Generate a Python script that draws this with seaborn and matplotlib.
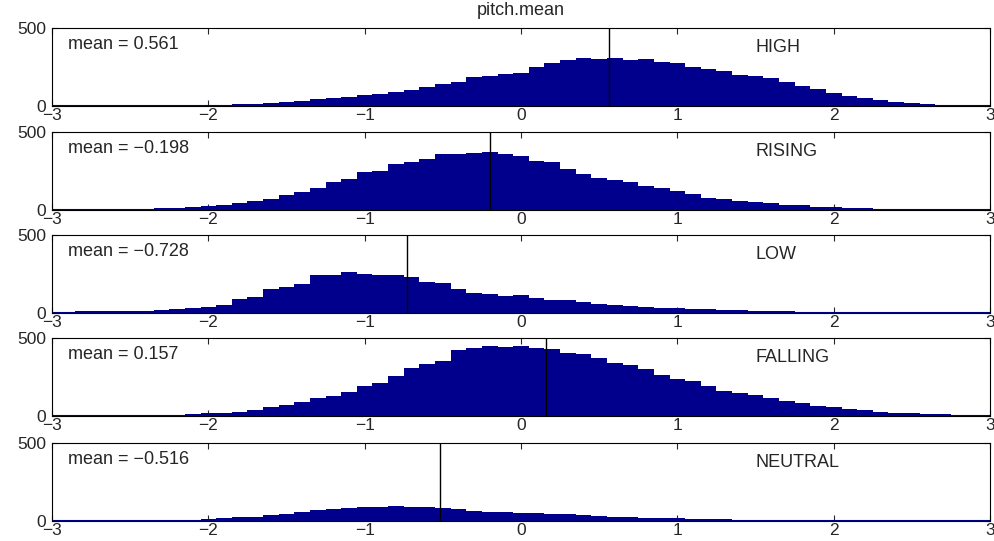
import numpy as np
import pandas as pd
import matplotlib
matplotlib.use("Agg")
import matplotlib.pyplot as plt
import seaborn as sns

# bin centres of the histograms (0.1 wide)
centers = np.round(np.arange(-30, 31) / 10, 1)

labels = ["HIGH", "RISING", "LOW", "FALLING", "NEUTRAL"]
means = [0.561, -0.198, -0.728, 0.157, -0.516]

high = [0, 0, 0, 1, 1, 1, 2, 2, 3, 4,
        6, 8, 10, 13, 17, 26, 32, 45, 53, 60,
        70, 79, 87, 102, 121, 140, 155, 185, 194, 205,
        212, 251, 279, 294, 309, 300, 305, 294, 300, 283,
        273, 251, 236, 224, 202, 194, 177, 151, 130, 109,
        81, 64, 49, 36, 28, 21, 13, 9, 6, 4, 2]
rising = [3, 3, 4, 4, 5, 6, 8, 10, 13, 18,
          26, 32, 47, 58, 69, 95, 116, 144, 177, 198,
          241, 252, 295, 310, 328, 360, 360, 366, 371, 360,
          345, 317, 306, 263, 231, 203, 194, 181, 155, 138,
          123, 101, 80, 73, 60, 52, 43, 34, 30, 22,
          17, 13, 11, 9, 6, 5, 4, 3, 3, 2, 2]
low = [6, 9, 11, 12, 13, 14, 15, 18, 24, 30,
       39, 52, 90, 105, 155, 166, 187, 241, 246, 263,
       252, 241, 241, 231, 198, 194, 155, 129, 121, 112,
       116, 95, 86, 82, 69, 60, 52, 47, 39, 30,
       30, 27, 24, 21, 19, 16, 13, 11, 9, 8,
       6, 6, 5, 5, 4, 4, 3, 3, 3, 2, 2]
falling = [3, 3, 3, 4, 4, 4, 5, 6, 9, 13,
           17, 22, 28, 41, 61, 71, 93, 115, 130, 154,
           190, 212, 255, 309, 331, 353, 422, 439, 450, 444,
           450, 439, 429, 407, 396, 374, 342, 327, 299, 266,
           240, 227, 190, 162, 147, 132, 115, 97, 82, 67,
           61, 45, 37, 28, 22, 17, 13, 11, 6, 6, 4]
neutral = [2, 2, 2, 2, 3, 3, 3, 4, 5, 6,
           13, 17, 24, 28, 39, 47, 56, 71, 77, 86,
           92, 92, 97, 92, 92, 82, 77, 64, 60, 56,
           54, 49, 47, 43, 39, 30, 26, 24, 21, 19,
           17, 14, 11, 10, 9, 7, 6, 6, 6, 5,
           4, 4, 3, 3, 3, 2, 2, 2, 2, 2, 2]
counts = [high, rising, low, falling, neutral]

sns.set_style("ticks")
plt.rcParams['font.family'] = ['Liberation Sans', 'DejaVu Sans']
plt.rcParams['font.size'] = 13
plt.rcParams['xtick.direction'] = 'in'
plt.rcParams['ytick.direction'] = 'in'

navy = '#00008C'
fig = plt.figure(figsize=(9.94, 5.41), dpi=100)
bottoms = [0.8040, 0.6118, 0.4214, 0.2310, 0.0369]

for i in range(5):
    ax = fig.add_axes([0.0523, bottoms[i], 0.9437, 0.1442])
    df = pd.DataFrame({'x': centers, 'n': counts[i]})
    sns.histplot(data=df, x='x', weights='n', bins=61, binrange=(-3.05, 3.05),
                 ax=ax, color=navy, edgecolor=navy, linewidth=0, alpha=1)
    ax.axhline(0, color=navy, lw=1.5)
    ax.axvline(means[i], color='k', lw=1)
    ax.set_xlim(-3, 3)
    ax.set_ylim(0, 500)
    ax.set_xticks([-3, -2, -1, 0, 1, 2, 3])
    ax.set_yticks([0, 500])
    ax.set_xlabel('')
    ax.set_ylabel('')
    ax.tick_params(top=True, right=True, length=4, width=0.8, labelsize=12.5)
    ax.tick_params(axis='x', pad=1.5)
    ax.tick_params(axis='y', pad=4)
    for s in ax.spines.values():
        s.set_linewidth(0.8)
        s.set_color('k')
    mtxt = ('mean = %.3f' % means[i]).replace('-', '\u2212')
    ax.text(0.017, 0.785, mtxt, transform=ax.transAxes,
            va='center', ha='left', fontsize=13)
    ax.text(0.75, 0.75, labels[i], transform=ax.transAxes,
            va='center', ha='left', fontsize=13)
    if i == 0:
        ax.text(0.5, 1.22, 'pitch.mean', transform=ax.transAxes,
                va='center', ha='center', fontsize=13)

fig.savefig('out.png', dpi=100)
